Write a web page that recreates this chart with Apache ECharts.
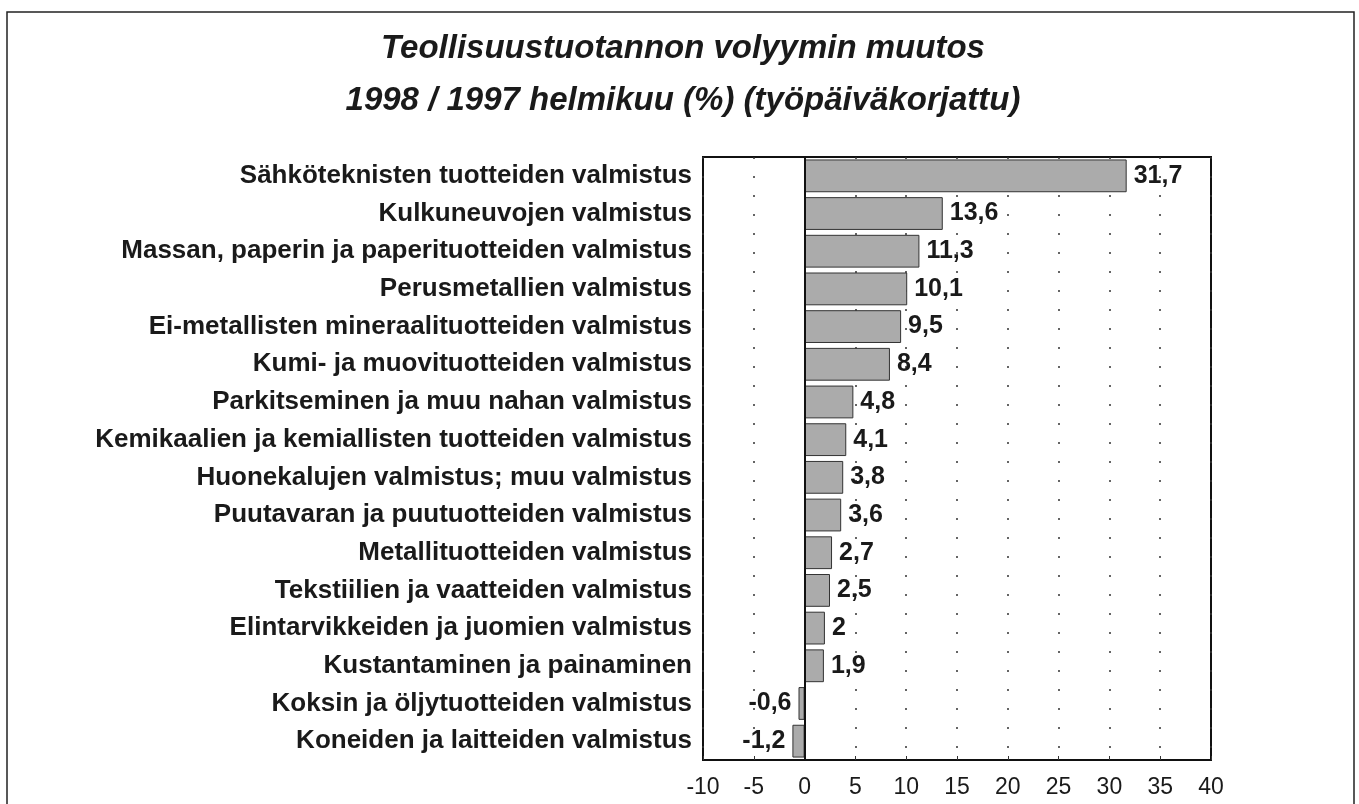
<!DOCTYPE html>
<html>
<head>
<meta charset="utf-8">
<script src="https://cdn.jsdelivr.net/npm/echarts@6/dist/echarts.min.js"></script>
<style>
	html, body { margin: 0; padding: 0; background: #fff; }
	#chart { width: 1359px; height: 804px; }
</style>
</head>
<body>
<div id="chart"></div>
<script>
// toimialat ylhäältä alas
var categories = [
	'Sähköteknisten tuotteiden valmistus',
	'Kulkuneuvojen valmistus',
	'Massan, paperin ja paperituotteiden valmistus',
	'Perusmetallien valmistus',
	'Ei-metallisten mineraalituotteiden valmistus',
	'Kumi- ja muovituotteiden valmistus',
	'Parkitseminen ja muu nahan valmistus',
	'Kemikaalien ja kemiallisten tuotteiden valmistus',
	'Huonekalujen valmistus; muu valmistus',
	'Puutavaran ja puutuotteiden valmistus',
	'Metallituotteiden valmistus',
	'Tekstiilien ja vaatteiden valmistus',
	'Elintarvikkeiden ja juomien valmistus',
	'Kustantaminen ja painaminen',
	'Koksin ja öljytuotteiden valmistus',
	'Koneiden ja laitteiden valmistus'
];
var muutos = [31.7, 13.6, 11.3, 10.1, 9.5, 8.4, 4.8, 4.1, 3.8, 3.6, 2.7, 2.5, 2, 1.9, -0.6, -1.2];
var xMin = -10, xMax = 40, xStep = 5;

var font = '"Liberation Sans", Arial, sans-serif';

var barData = muutos.map(function(v) {
	return {
		value : v,
		label : { position : v < 0 ? 'left' : 'right' }
	};
});

var chart = echarts.init(document.getElementById('chart'));
chart.setOption({
	backgroundColor : '#fff',
	animation : false,
	title : {
		text : 'Teollisuustuotannon volyymin muutos\n1998 / 1997 helmikuu (%) (työpäiväkorjattu)',
		left : 678,
		textAlign : 'center',
		top : 18,
		textStyle : {
			fontFamily : font,
			fontStyle : 'italic',
			fontWeight : 'bold',
			fontSize : 33,
			lineHeight : 52,
			color : '#1a1a1a'
		}
	},
	graphic : [{
		type : 'rect',
		shape : { x : 7, y : 12, width : 1347, height : 820 },
		style : { fill : 'none', stroke : '#222', lineWidth : 1.5 },
		silent : true
	}],
	grid : {
		left : 703,
		right : 148,
		top : 157,
		bottom : 44,
		show : true,
		borderColor : '#111',
		borderWidth : 2,
		backgroundColor : 'transparent'
	},
	xAxis : {
		type : 'value',
		min : xMin,
		max : xMax,
		interval : xStep,
		axisLine : { show : false },
		axisTick : { show : true, inside : true, length : 4, lineStyle : { color : '#333' } },
		axisLabel : {
			fontFamily : font,
			fontSize : 23,
			color : '#1a1a1a',
			margin : 16
		},
		splitLine : {
			show : true,
			lineStyle : { color : '#333', width : 1.5, type : [2, 17] }
		}
	},
	yAxis : {
		type : 'category',
		data : categories,
		inverse : true,
		axisLine : { show : false, onZero : false },
		axisTick : { show : false },
		axisLabel : {
			fontFamily : font,
			fontWeight : 'bold',
			fontSize : 26,
			color : '#1a1a1a',
			margin : 11
		},
		splitLine : { show : false }
	},
	series : [{
		name : 'muutos',
		type : 'bar',
		data : barData,
		barCategoryGap : '13%',
		itemStyle : {
			color : '#ababab',
			borderColor : '#333',
			borderWidth : 1
		},
		label : {
			show : true,
			fontFamily : font,
			fontWeight : 'bold',
			fontSize : 25,
			color : '#1a1a1a',
			distance : 7,
			formatter : function(p) {
				return String(p.value).replace('.', ',');
			}
		},
		markLine : {
			silent : true,
			symbol : 'none',
			label : { show : false },
			lineStyle : { color : '#111', width : 2, type : 'solid' },
			data : [{ xAxis : 0 }]
		}
	}]
});
</script>
</body>
</html>
